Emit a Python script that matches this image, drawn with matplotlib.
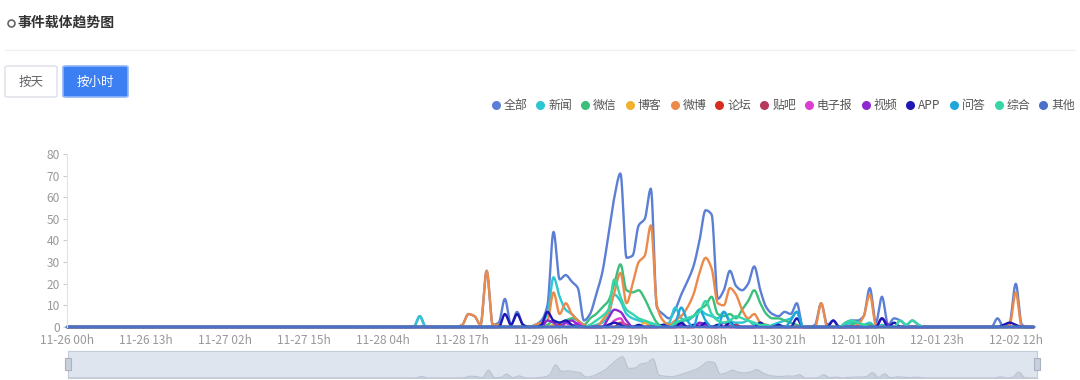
import numpy as np
import matplotlib
matplotlib.use("Agg")
import matplotlib.pyplot as plt
from matplotlib.patches import FancyBboxPatch, Rectangle
from matplotlib.lines import Line2D

plt.rcParams['font.family'] = ['Noto Sans CJK SC', 'DejaVu Sans']

# 小时序列: 11-26 00h 起共 160 个小时, 56h 之前全为 0
N_HOURS = 160
START_HOUR = 56
tick_hours = list(range(0, 160, 13))
tick_labels = ['11-26 00h', '11-26 13h', '11-27 02h', '11-27 15h', '11-28 04h',
               '11-28 17h', '11-29 06h', '11-29 19h', '11-30 08h', '11-30 21h',
               '12-01 10h', '12-01 23h', '12-02 12h']

# 各载体数值 (56h ~ 159h)
all_vals = [0, 0, 5, 0, 0, 0, 0, 0, 0, 1,
            6, 5, 1, 26, 1, 2, 13, 1, 7, 1,
            0, 1, 3, 10, 44, 22, 24, 21, 18, 3,
            6, 15, 25, 42, 60, 71, 32, 33, 47, 50,
            64, 9, 6, 4, 8, 15, 21, 28, 40, 54,
            52, 13, 17, 26, 19, 17, 20, 28, 17, 9,
            6, 5, 7, 6, 11, 0, 0, 1, 11, 1,
            3, 0, 2, 3, 3, 5, 18, 2, 14, 1,
            4, 3, 1, 3, 1, 0, 0, 0, 0, 0,
            0, 0, 0, 0, 0, 0, 0, 4, 0, 2,
            20, 1, 0, 0]
news = [0, 0, 5, 0, 0, 0, 0, 0, 0, 0,
        0, 0, 0, 0, 0, 0, 0, 0, 0, 0,
        0, 0, 2, 6, 23, 14, 8, 6, 3, 1,
        0, 1, 2, 5, 15, 12, 6, 4, 3, 2,
        1, 0, 1, 2, 9, 4, 3, 5, 8, 6,
        5, 4, 7, 3, 2, 2, 3, 1, 1, 0,
        1, 2, 3, 4, 7, 0, 0, 0, 0, 0,
        0, 0, 1, 2, 2, 1, 2, 0, 1, 0,
        0, 0, 0, 0, 0, 0, 0, 0, 0, 0,
        0, 0, 0, 0, 0, 0, 0, 0, 0, 0,
        0, 0, 0, 0]
wechat = [0, 0, 0, 0, 0, 0, 0, 0, 0, 0,
          0, 0, 0, 0, 0, 0, 0, 0, 0, 0,
          0, 0, 0, 1, 3, 2, 3, 4, 3, 1,
          4, 6, 9, 12, 20, 29, 17, 16, 17, 13,
          7, 2, 0, 0, 1, 2, 4, 5, 8, 10,
          14, 6, 5, 6, 4, 8, 12, 17, 11, 6,
          4, 4, 3, 2, 1, 0, 0, 0, 0, 0,
          0, 0, 0, 1, 2, 1, 1, 0, 0, 0,
          0, 0, 0, 0, 0, 0, 0, 0, 0, 0,
          0, 0, 0, 0, 0, 0, 0, 0, 0, 0,
          0, 0, 0, 0]
blog = [0, 0, 0, 0, 0, 0, 0, 0, 0, 0,
        0, 0, 0, 0, 0, 0, 0, 0, 0, 0,
        0, 0, 0, 0, 1, 0, 0, 0, 0, 0,
        0, 0, 0, 0, 0, 0, 0, 0, 0, 2,
        0, 0, 0, 0, 0, 0, 0, 0, 0, 0,
        0, 0, 0, 1, 0, 0, 0, 0, 0, 0,
        0, 0, 0, 0, 0, 0, 0, 0, 0, 0,
        0, 0, 0, 0, 0, 0, 0, 0, 0, 0,
        0, 0, 0, 0, 0, 0, 0, 0, 0, 0,
        0, 0, 0, 0, 0, 0, 0, 0, 0, 0,
        0, 0, 0, 0]
weibo = [0, 0, 0, 0, 0, 0, 0, 0, 0, 1,
         6, 5, 1, 26, 1, 1, 0, 0, 0, 0,
         0, 1, 2, 3, 16, 6, 11, 6, 3, 1,
         0, 0, 3, 7, 16, 25, 11, 20, 30, 33,
         47, 10, 3, 1, 3, 5, 9, 15, 25, 32,
         27, 11, 10, 18, 15, 8, 4, 6, 2, 1,
         0, 0, 0, 0, 0, 0, 0, 0, 11, 0,
         0, 0, 0, 0, 1, 5, 15, 1, 0, 0,
         0, 0, 0, 0, 0, 0, 0, 0, 0, 0,
         0, 0, 0, 0, 0, 0, 0, 0, 0, 1,
         16, 0, 0, 0]
forum = [0, 0, 0, 0, 0, 0, 0, 0, 0, 0,
         0, 0, 0, 0, 0, 0, 0, 0, 0, 0,
         0, 0, 0, 0, 0, 1, 0, 0, 0, 0,
         0, 0, 0, 0, 0, 0, 0, 0, 0, 0,
         0, 0, 0, 0, 0, 0, 0, 0, 1, 0,
         0, 0, 0, 0, 0, 0, 0, 0, 0, 0,
         0, 0, 0, 0, 0, 0, 0, 0, 0, 0,
         0, 0, 0, 0, 0, 0, 0, 0, 0, 0,
         0, 0, 0, 0, 0, 0, 0, 0, 0, 0,
         0, 0, 0, 0, 0, 0, 0, 0, 0, 0,
         0, 0, 0, 0]
tieba = [0, 0, 0, 0, 0, 0, 0, 0, 0, 0,
         0, 0, 0, 0, 0, 0, 0, 0, 0, 0,
         0, 0, 0, 0, 0, 0, 0, 0, 0, 0,
         0, 0, 0, 0, 0, 2, 1, 0, 0, 0,
         0, 0, 0, 0, 0, 0, 0, 0, 0, 0,
         0, 0, 0, 0, 1, 0, 0, 0, 0, 0,
         0, 0, 0, 0, 0, 0, 0, 0, 0, 0,
         0, 0, 0, 0, 0, 0, 0, 0, 0, 0,
         0, 0, 0, 0, 0, 0, 0, 0, 0, 0,
         0, 0, 0, 0, 0, 0, 0, 0, 0, 0,
         0, 0, 0, 0]
epaper = [0, 0, 0, 0, 0, 0, 0, 0, 0, 0,
          0, 0, 0, 0, 0, 0, 0, 0, 0, 0,
          0, 0, 0, 0, 0, 0, 2, 0, 2, 0,
          0, 0, 0, 0, 3, 4, 0, 0, 0, 0,
          0, 0, 0, 0, 0, 0, 0, 0, 1, 0,
          0, 0, 0, 0, 0, 0, 0, 0, 0, 0,
          0, 0, 0, 0, 0, 0, 0, 0, 0, 0,
          0, 0, 0, 0, 0, 0, 0, 0, 0, 0,
          0, 0, 0, 0, 0, 0, 0, 0, 0, 0,
          0, 0, 0, 0, 0, 0, 0, 0, 0, 0,
          0, 0, 0, 0]
video = [0, 0, 0, 0, 0, 0, 0, 0, 0, 0,
         0, 0, 0, 0, 0, 0, 0, 0, 0, 0,
         0, 0, 0, 3, 2, 0, 2, 3, 1, 0,
         0, 0, 0, 4, 8, 7, 3, 0, 0, 0,
         0, 0, 0, 0, 0, 1, 0, 0, 2, 1,
         0, 0, 2, 0, 0, 0, 0, 0, 0, 0,
         0, 0, 0, 0, 0, 0, 0, 0, 0, 0,
         0, 0, 0, 0, 0, 0, 0, 0, 4, 1,
         0, 0, 0, 0, 0, 0, 0, 0, 0, 0,
         0, 0, 0, 0, 0, 0, 0, 0, 0, 0,
         0, 0, 0, 0]
app = [0, 0, 0, 0, 0, 0, 0, 0, 0, 0,
       0, 0, 0, 0, 0, 0, 6, 1, 6, 1,
       0, 0, 1, 7, 3, 2, 3, 1, 0, 0,
       0, 0, 0, 1, 2, 1, 0, 0, 1, 0,
       0, 0, 1, 0, 0, 2, 0, 1, 0, 2,
       0, 1, 0, 2, 0, 0, 0, 0, 2, 0,
       0, 1, 0, 0, 4, 0, 0, 0, 0, 0,
       3, 0, 0, 0, 0, 0, 0, 0, 4, 0,
       2, 0, 0, 0, 0, 0, 0, 0, 0, 0,
       0, 0, 0, 0, 0, 0, 0, 0, 1, 2,
       1, 0, 0, 0]
qa = [0, 0, 0, 0, 0, 0, 0, 0, 0, 0,
      0, 0, 0, 0, 0, 0, 0, 0, 0, 0,
      0, 0, 0, 0, 0, 0, 0, 0, 0, 0,
      0, 0, 0, 0, 0, 0, 0, 0, 0, 0,
      0, 0, 0, 0, 2, 9, 3, 0, 8, 3,
      0, 0, 7, 2, 0, 0, 0, 0, 0, 0,
      0, 0, 0, 3, 7, 0, 0, 0, 0, 0,
      0, 0, 0, 0, 0, 0, 0, 0, 0, 0,
      0, 0, 0, 0, 0, 0, 0, 0, 0, 0,
      0, 0, 0, 0, 0, 0, 0, 0, 0, 0,
      0, 0, 0, 0]
general = [0, 0, 0, 0, 0, 0, 0, 0, 0, 0,
           0, 0, 0, 0, 0, 0, 0, 0, 0, 0,
           0, 0, 0, 0, 0, 0, 0, 0, 0, 0,
           1, 3, 5, 8, 22, 14, 8, 6, 4, 3,
           2, 1, 0, 0, 2, 3, 4, 5, 7, 12,
           6, 3, 2, 3, 5, 4, 3, 2, 1, 1,
           0, 0, 0, 0, 0, 0, 0, 0, 0, 0,
           0, 0, 2, 3, 2, 1, 0, 0, 0, 0,
           0, 3, 1, 3, 1, 0, 0, 0, 0, 0,
           0, 0, 0, 0, 0, 0, 0, 0, 0, 0,
           0, 0, 0, 0]
other = [0] * 104

names = ['全部', '新闻', '微信', '博客', '微博', '论坛', '贴吧', '电子报', '视频', 'APP', '问答', '综合', '其他']
series = [all_vals, news, wechat, blog, weibo, forum, tieba, epaper, video, app, qa, general, other]
colors = ['#5b7fd4', '#2cc6d4', '#3cbf7a', '#f2b030', '#ec8a4a', '#d62d20', '#b63a5e',
          '#dc3fd0', '#8c2ad0', '#1d17b6', '#1ea6dc', '#37d6a6', '#4a70c8']


def smooth(y, k=10):
    # 单调三次插值, 类似 echarts 的 smooth 折线
    y = np.asarray(y, float)
    n = len(y)
    d = np.diff(y)
    m = np.zeros(n)
    for i in range(1, n - 1):
        if d[i - 1] * d[i] > 0:
            m[i] = 2.0 / (1.0 / d[i - 1] + 1.0 / d[i])
    xs = np.linspace(0, n - 1, (n - 1) * k + 1)
    i = np.minimum(xs.astype(int), n - 2)
    t = xs - i
    h00 = 2 * t**3 - 3 * t**2 + 1
    h10 = t**3 - 2 * t**2 + t
    h01 = -2 * t**3 + 3 * t**2
    h11 = t**3 - t**2
    ys = h00 * y[i] + h10 * m[i] + h01 * y[i + 1] + h11 * m[i + 1]
    return xs, ys


def full(vals):
    return np.concatenate([np.zeros(START_HOUR), np.asarray(vals, float)])


W, H = 1080, 380
fig = plt.figure(figsize=(W / 100, H / 100), dpi=100)


def fx(px):
    return px / W


def fy(py):
    return 1 - py / H


def dot(px, py, size, **kw):
    fig.add_artist(Line2D([fx(px)], [fy(py)], transform=fig.transFigure, marker='o',
                          markersize=size, linestyle='none', **kw))


# 标题
dot(11, 23, 5, markerfacecolor='none', markeredgecolor='#666666', markeredgewidth=1.2)
fig.text(fx(17), fy(23), '事件载体趋势图', fontsize=10, fontweight='bold',
         color='#333333', va='center', ha='left')
fig.add_artist(Line2D([fx(5), fx(1075)], [fy(50), fy(50)], color='#f0f0f0', linewidth=1))

# 按钮
fig.add_artist(FancyBboxPatch((fx(5), fy(97)), 52 / W, 31 / H, boxstyle='round,pad=0,rounding_size=0.003',
                              transform=fig.transFigure, facecolor='white', edgecolor='#dcdfe6', linewidth=1))
fig.text(fx(31), fy(82), '按天', fontsize=9, color='#606266', ha='center', va='center')
fig.add_artist(FancyBboxPatch((fx(63), fy(97)), 65 / W, 31 / H, boxstyle='round,pad=0,rounding_size=0.003',
                              transform=fig.transFigure, facecolor='#3b7ff3', edgecolor='#8fb5f7', linewidth=1.2))
fig.text(fx(95.5), fy(82), '按小时', fontsize=9, color='white', ha='center', va='center')

# 图例 (从右往左排, 右端对齐 1075px)
renderer = fig.canvas.get_renderer()
x_right = 1075
items = []
for name, c in zip(names, colors):
    t = fig.text(0, fy(105), name, fontsize=8.6, color='#555555', ha='left', va='center')
    w = t.get_window_extent(renderer).width
    items.append((t, w, c))
for t, w, c in reversed(items):
    t.set_x(fx(x_right - w))
    dot(x_right - w - 8, 105, 6.5, markerfacecolor=c, markeredgecolor='none')
    x_right = x_right - w - 8 - 4 - 9

# 主图
ax = fig.add_axes([fx(67), 53 / H, 967 / W, 173 / H])
for vals, c in zip(series, colors):
    xs, ys = smooth(full(vals))
    ax.plot(xs, ys, color=c, linewidth=1.7, clip_on=False, solid_capstyle='round')
ax.set_xlim(0, N_HOURS - 1)
ax.set_ylim(0, 80)
ax.set_yticks(range(0, 81, 10))
ax.set_xticks(tick_hours)
ax.set_xticklabels(tick_labels)
ax.tick_params(axis='y', length=3, width=0.8, color='#cccccc', labelcolor='#999999', labelsize=8.6, pad=2)
ax.tick_params(axis='x', length=0, labelcolor='#999999', labelsize=8.6, pad=5)
for s in ['top', 'right', 'bottom']:
    ax.spines[s].set_visible(False)
ax.spines['left'].set_color('#e3e3e3')
ax.patch.set_alpha(0)

# 缩放条
ax2 = fig.add_axes([fx(68), 2 / H, 969 / W, 27 / H])
xs, ys = smooth(full(all_vals))
ax2.set_facecolor('#dfe5ee')
ax2.fill_between(xs, ys, color='#c8d0dc', linewidth=0)
ax2.plot(xs, ys, color='#b8c2cf', linewidth=0.8)
ax2.set_xlim(0, N_HOURS - 1)
ax2.set_ylim(0, 90)
ax2.set_xticks([])
ax2.set_yticks([])
for s in ax2.spines.values():
    s.set_color('#c4ccd8')
for hx in [68, 1037]:
    fig.add_artist(Rectangle((fx(hx - 3), fy(370)), 6 / W, 12 / H, transform=fig.transFigure,
                             facecolor='#c8d0dc', edgecolor='#a8b2c0', linewidth=0.8))

fig.savefig('out.png', dpi=100)
